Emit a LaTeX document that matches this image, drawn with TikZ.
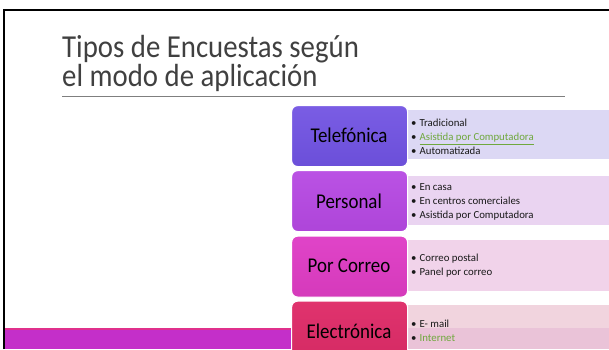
\documentclass[tikz,border=0pt]{standalone}
\usepackage{fontspec}
\setmainfont{Carlito}
\definecolor{titlegray}{HTML}{404040}
\definecolor{rulegray}{HTML}{7F7F7F}
\definecolor{boxA}{HTML}{7A5DE4}
\definecolor{boxAd}{HTML}{6B4FD9}
\definecolor{boxB}{HTML}{BA52E4}
\definecolor{boxBd}{HTML}{AE45D9}
\definecolor{boxC}{HTML}{E044C8}
\definecolor{boxCd}{HTML}{D53ABB}
\definecolor{boxD}{HTML}{E0336E}
\definecolor{boxDd}{HTML}{D42A63}
\definecolor{panA}{HTML}{DCD8F4}
\definecolor{panB}{HTML}{EAD4F1}
\definecolor{panC}{HTML}{F1D3EA}
\definecolor{panD}{HTML}{F1D4DE}
\definecolor{panDd}{HTML}{EAC3D8}
\definecolor{barmag}{HTML}{C42FC9}
\definecolor{barpink}{HTML}{E0308C}
\definecolor{linkgreen}{HTML}{6FA83D}
\tikzset{
  catbox/.style={draw=white, line width=1.2pt, rounded corners=6pt, minimum width=116pt, minimum height=61pt, anchor=north west, inner sep=0pt},
  catlabel/.style={font=\fontsize{21}{22}\selectfont, text=black},
  panelbox/.style={anchor=north west, minimum width=210pt, inner sep=0pt, draw=none},
  bullets/.style={anchor=west, align=left, font=\fontsize{10.8}{13.8}\selectfont, text=black!90, inner sep=0pt},
  titletext/.style={anchor=base west, font=\fontsize{32}{33}\selectfont, text=titlegray, inner sep=0pt}
}
\newcommand{\bul}{\textbullet\hspace{3pt}}
\newcommand{\narrow}[1]{\scalebox{0.9}[1]{#1}}
\begin{document}
\begin{tikzpicture}[x=1pt,y=-1pt]
\useasboundingbox (0,0) rectangle (609,349);
\clip (0,0) rectangle (609,349);
% bottom bar
\fill[barmag] (5,330) rectangle (609,349);
\fill[barpink] (5,327.5) rectangle (609,330);
% frame
\draw[line width=1.8pt] (4.2,349) -- (4.2,10) -- (609,10);
% title
\node[titletext] (t1) at (62,57) {\narrow{Tipos de Encuestas según}};
\node[titletext] (t2) at (62,86) {\narrow{el modo de aplicación}};
\draw[rulegray, line width=0.8pt] (62,96.5) -- (565,96.5);
% panels
\node[panelbox, fill=panA, minimum height=49pt] (pa) at (404,110) {};
\node[panelbox, fill=panB, minimum height=49pt] (pb) at (404,176) {};
\node[panelbox, fill=panC, minimum height=51pt] (pc) at (404,240) {};
\node[panelbox, fill=panD, minimum height=23pt] (pd) at (404,305) {};
\node[panelbox, fill=panDd, minimum height=21pt] (pd2) at (404,328) {};
% boxes
\node[catbox, top color=boxA, bottom color=boxAd] (ba) at (291,105) {};
\node[catbox, top color=boxB, bottom color=boxBd] (bb) at (291,170) {};
\node[catbox, top color=boxC, bottom color=boxCd] (bc) at (291,235.5) {};
\node[catbox, top color=boxD, bottom color=boxDd] (bd) at (291,300.5) {};
\node[catlabel] (la) at (349,135.5) {\narrow{Telefónica}};
\node[catlabel] (lb) at (349,201) {\narrow{Personal}};
\node[catlabel] (lc) at (349,266) {\narrow{Por Correo}};
\node[catlabel] (ld) at (349,331) {\narrow{Electrónica}};
% bullet texts
\node[bullets] (xa) at (411,137) {\bul Tradicional\\ \bul {\color{linkgreen}\underline{Asistida por Computadora}}\\ \bul Automatizada};
\node[bullets] (xb) at (411,202) {\bul En casa\\ \bul En centros comerciales\\ \bul Asistida por Computadora};
\node[bullets] (xc) at (411,266) {\bul Correo postal\\ \bul Panel por correo};
\node[bullets] (xd) at (411,331) {\bul E- mail\\ \bul {\color{linkgreen}Internet}};
\end{tikzpicture}
\end{document}
